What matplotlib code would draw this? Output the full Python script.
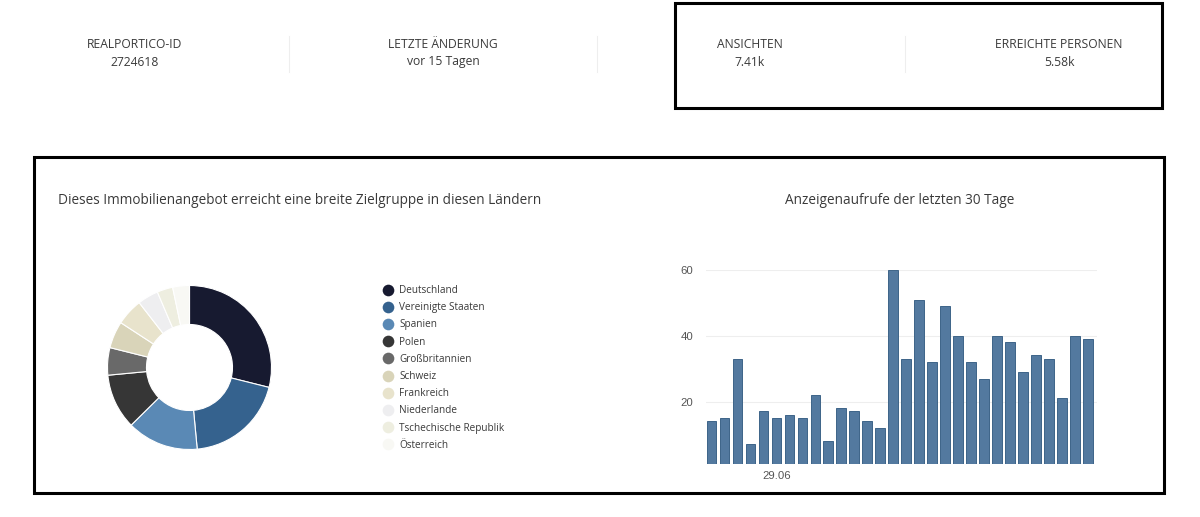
import matplotlib
matplotlib.use("Agg")
import matplotlib.pyplot as plt
from matplotlib.lines import Line2D
from matplotlib.patches import Rectangle

W, H = 1200, 517

# --- data ---
countries = ["Deutschland", "Vereinigte Staaten", "Spanien", "Polen", "Großbritannien",
             "Schweiz", "Frankreich", "Niederlande", "Tschechische Republik", "Österreich"]
shares = [28.9, 19.6, 14.1, 10.9, 5.4, 5.3, 5.3, 4.1, 3.1, 3.3]
country_colors = ["#171a30", "#35628e", "#5a89b5", "#363636", "#696969",
                  "#d9d4b9", "#e8e3cc", "#eeeef0", "#eeeee0", "#f8f8f4"]

views = [14, 15, 33, 7, 17, 15, 16, 15, 22, 8, 18, 17, 14, 12, 60,
         33, 51, 32, 49, 40, 32, 27, 40, 38, 29, 34, 33, 21, 40, 39]
y_ticks = [20, 40, 60]
date_tick_index = [5]
date_tick_labels = ["29.06"]

stats = [("REALPORTICO-ID", "2724618", 135),
         ("LETZTE ÄNDERUNG", "vor 15 Tagen", 443),
         ("ANSICHTEN", "7.41k", 750),
         ("ERREICHTE PERSONEN", "5.58k", 1059)]
dividers_x = [289, 597, 905]

TEXT = "#3a3a3a"
plt.rcParams["font.family"] = ["Open Sans", "DejaVu Sans"]

fig = plt.figure(figsize=(W / 100, H / 100), dpi=100, facecolor="white")


def fx(x):
    return x / W


def fy(y):
    return 1 - y / H


def axes_px(left, top, right, bottom):
    return fig.add_axes([fx(left), fy(bottom), (right - left) / W, (bottom - top) / H])


# --- header statistics ---
for label, value, x in stats:
    fig.text(fx(x), fy(44), label, ha="center", va="center", fontsize=8.75, color=TEXT)
    fig.text(fx(x), fy(62), value, ha="center", va="center", fontsize=8.75, color=TEXT)
for x in dividers_x:
    fig.add_artist(Line2D([fx(x), fx(x)], [fy(36), fy(72)], color="#eeeeee", lw=0.8))

# --- frames ---
for left, top, right, bottom in [(675, 3, 1162, 108), (34, 157, 1164, 493)]:
    fig.add_artist(Rectangle((fx(left), fy(bottom)), (right - left) / W, (bottom - top) / H,
                             transform=fig.transFigure, fill=False, edgecolor="#000000", lw=2.2))

# --- titles ---
fig.text(fx(58), fy(200.5), "Dieses Immobilienangebot erreicht eine breite Zielgruppe in diesen Ländern",
         ha="left", va="center", fontsize=9.82, color=TEXT)
fig.text(fx(899.5), fy(200.5), "Anzeigenaufrufe der letzten 30 Tage",
         ha="center", va="center", fontsize=9.82, color=TEXT)

# --- donut ---
R, r = 82, 43
cx, cy = 189.5, 367.5
ax_pie = axes_px(cx - R, cy - R, cx + R, cy + R)
wedges, _ = ax_pie.pie(shares, colors=country_colors, startangle=90, counterclock=False, radius=1,
                       wedgeprops={"width": (R - r) / R, "edgecolor": "white", "linewidth": 0.8})
ax_pie.set_xlim(-1, 1)
ax_pie.set_ylim(-1, 1)

handles = [Line2D([], [], ls="none", marker="o", markersize=8.4, markerfacecolor=c,
                  markeredgecolor="none", label=n)
           for n, c in zip(countries, country_colors)]
fig.legend(handles=handles, loc="upper left", bbox_to_anchor=(fx(380), fy(285)), frameon=False,
           fontsize=7.2, labelcolor=TEXT, labelspacing=0.62, handlelength=1.5, handletextpad=0.4,
           borderpad=0, borderaxespad=0)

# --- bars ---
ax_bar = axes_px(706, 270, 1097, 464)
ax_bar.bar(range(len(views)), views, width=0.74, color="#53799f", edgecolor="#3d6488",
           linewidth=0.7, zorder=3)
ax_bar.set_xlim(-0.42, 29.7)
ax_bar.set_ylim(1, 60)
ax_bar.set_yticks(y_ticks)
ax_bar.set_xticks(date_tick_index, date_tick_labels)
ax_bar.grid(axis="y", color="#eeeeee", lw=0.8, zorder=0)
ax_bar.tick_params(length=0, labelsize=8.2, labelcolor="#555555", pad=5)
ax_bar.tick_params(axis="y", pad=9)
for label in ax_bar.get_xticklabels() + ax_bar.get_yticklabels():
    label.set_family(["Liberation Sans", "DejaVu Sans"])
for spine in ax_bar.spines.values():
    spine.set_visible(False)

fig.savefig("out.png", dpi=100, facecolor="white")
